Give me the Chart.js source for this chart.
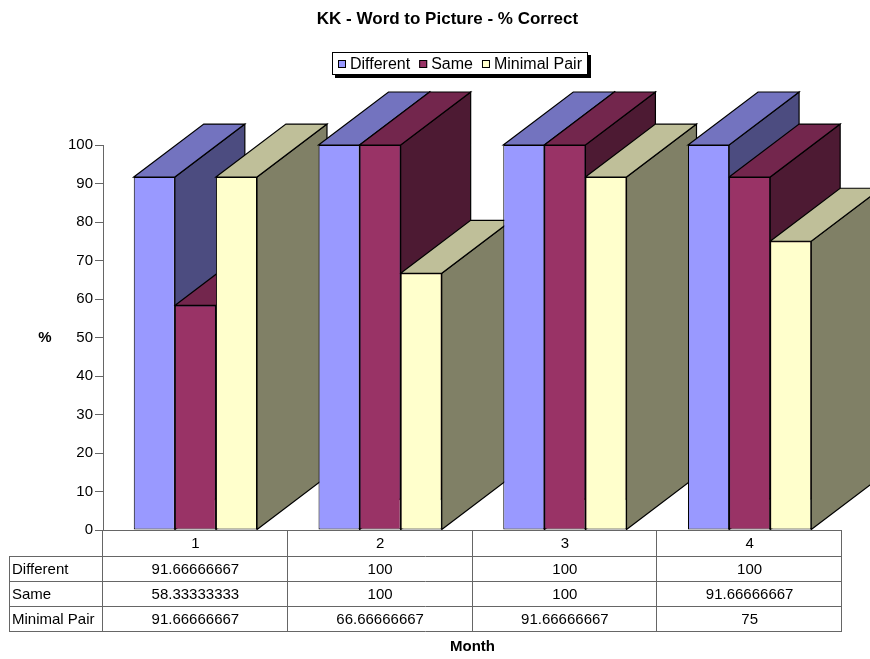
<!DOCTYPE html>
<html>
<head>
<meta charset="utf-8">
<script src="https://cdn.jsdelivr.net/npm/chart.js@4/dist/chart.umd.min.js"></script>
<style>
  html, body { margin: 0; padding: 0; background: #ffffff; }
  #wrap { width: 870px; height: 659px; }
</style>
</head>
<body>
<div id="wrap"><canvas id="chart" width="870" height="659"></canvas></div>
<script>
// Months on the category axis
const months = ['1', '2', '3', '4'];

// % correct per condition
const different = [91.66666667, 100, 100, 100];
const same = [58.33333333, 100, 100, 91.66666667];
const minimalPair = [91.66666667, 66.66666667, 91.66666667, 75];

const seriesNames = ['Different', 'Same', 'Minimal Pair'];
const yTicks = [0, 10, 20, 30, 40, 50, 60, 70, 80, 90, 100];

// front / top / side shades for each series
const frontColors = ['#9999FF', '#993366', '#FFFFCC'];
const topColors = ['#7373BF', '#73264D', '#BFBF99'];
const sideColors = ['#4C4C80', '#4D1A33', '#808066'];

const FONT = '"Liberation Sans", Arial, sans-serif';
const LINE = '#666666';
const DEPTH_X = 70;
const DEPTH_Y = 53;

const seriesValues = [different, same, minimalPair];

// Draws the depth faces (right side and top) of every column, left to right,
// so that later columns cover the faces of the ones behind them.
const depthPlugin = {
  id: 'depth3d',
  beforeDatasetsDraw(chart) {
    const ctx = chart.ctx;
    const bars = [];
    chart.data.datasets.forEach((ds, di) => {
      chart.getDatasetMeta(di).data.forEach(el => {
        bars.push({ el, di });
      });
    });
    bars.sort((a, b) => a.el.x - b.el.x);
    ctx.save();
    ctx.lineWidth = 1.2;
    ctx.strokeStyle = '#000000';
    ctx.lineJoin = 'miter';
    bars.forEach(({ el, di }) => {
      const p = el.getProps(['x', 'y', 'base', 'width'], true);
      const l = p.x - p.width / 2, r = p.x + p.width / 2;
      const t = p.y, b = p.base;
      // side face
      ctx.beginPath();
      ctx.moveTo(r, t);
      ctx.lineTo(r + DEPTH_X, t - DEPTH_Y);
      ctx.lineTo(r + DEPTH_X, b - DEPTH_Y);
      ctx.lineTo(r, b);
      ctx.closePath();
      ctx.fillStyle = sideColors[di];
      ctx.fill();
      ctx.stroke();
      // top face
      ctx.beginPath();
      ctx.moveTo(l, t);
      ctx.lineTo(l + DEPTH_X, t - DEPTH_Y);
      ctx.lineTo(r + DEPTH_X, t - DEPTH_Y);
      ctx.lineTo(r, t);
      ctx.closePath();
      ctx.fillStyle = topColors[di];
      ctx.fill();
      ctx.stroke();
    });
    ctx.restore();
  }
};

// Title, legend, axis titles and the data table under the plot
const decorPlugin = {
  id: 'decor',
  afterDraw(chart) {
    const ctx = chart.ctx;
    const area = chart.chartArea;
    const xs = chart.scales.x;
    ctx.save();

    // title
    ctx.fillStyle = '#000000';
    ctx.font = 'bold 17px ' + FONT;
    ctx.textAlign = 'center';
    ctx.textBaseline = 'middle';
    ctx.fillText('KK - Word to Picture - % Correct', 447.5, 19);

    // legend box with drop shadow
    const lx = 332, ly = 52, lw = 256, lh = 23;
    ctx.fillStyle = '#000000';
    ctx.fillRect(lx + 3, ly + 3, lw, lh);
    ctx.fillStyle = '#ffffff';
    ctx.fillRect(lx, ly, lw, lh);
    ctx.strokeStyle = '#000000';
    ctx.lineWidth = 1;
    ctx.strokeRect(lx + 0.5, ly + 0.5, lw - 1, lh - 1);
    ctx.font = '16px ' + FONT;
    ctx.textAlign = 'left';
    let cx = lx + 6;
    seriesNames.forEach((name, i) => {
      ctx.fillStyle = frontColors[i];
      ctx.fillRect(cx, ly + 8, 8, 8);
      ctx.strokeStyle = '#000000';
      ctx.strokeRect(cx + 0.5, ly + 8.5, 7, 7);
      ctx.fillStyle = '#000000';
      ctx.fillText(name, cx + 12, ly + lh / 2 + 1);
      cx += 12 + ctx.measureText(name).width + 9;
    });

    // axis titles
    ctx.font = 'bold 15px ' + FONT;
    ctx.textAlign = 'center';
    ctx.fillText('%', 45, (area.top + area.bottom) / 2);
    ctx.fillText('Month', (area.left + area.right) / 2, 647);

    // data table
    const rowY = [area.bottom, 556, 581, 606, 631];
    const tableLeft = 9;
    ctx.strokeStyle = LINE;
    ctx.lineWidth = 1;
    ctx.beginPath();
    ctx.moveTo(area.left, Math.round(rowY[0]) + 0.5);
    ctx.lineTo(area.right, Math.round(rowY[0]) + 0.5);
    for (let r = 1; r < rowY.length; r++) {
      ctx.moveTo(tableLeft, rowY[r] + 0.5);
      ctx.lineTo(area.right, rowY[r] + 0.5);
    }
    ctx.moveTo(tableLeft + 0.5, rowY[1]);
    ctx.lineTo(tableLeft + 0.5, rowY[4]);
    const bounds = [area.left];
    months.forEach((m, i) => bounds.push(area.left + (area.right - area.left) * (i + 1) / months.length));
    bounds.forEach(bx => {
      ctx.moveTo(Math.round(bx) - 0.5, rowY[0]);
      ctx.lineTo(Math.round(bx) - 0.5, rowY[4]);
    });
    ctx.stroke();

    ctx.fillStyle = '#000000';
    ctx.font = '15px ' + FONT;
    ctx.textBaseline = 'middle';
    months.forEach((m, i) => {
      const mx = xs.getPixelForValue(i);
      ctx.textAlign = 'center';
      ctx.fillText(m, mx, (rowY[0] + rowY[1]) / 2 + 1);
      seriesValues.forEach((vals, s) => {
        ctx.fillText(String(vals[i]), mx, (rowY[s + 1] + rowY[s + 2]) / 2 + 1);
      });
    });
    ctx.textAlign = 'left';
    seriesNames.forEach((name, s) => {
      ctx.fillText(name, tableLeft + 3, (rowY[s + 1] + rowY[s + 2]) / 2 + 1);
    });
    ctx.restore();
  }
};

new Chart(document.getElementById('chart'), {
  type: 'bar',
  data: {
    labels: months,
    datasets: seriesNames.map((name, i) => ({
      label: name,
      data: seriesValues[i],
      backgroundColor: frontColors[i],
      borderColor: '#000000',
      borderWidth: 1,
      borderSkipped: false,
      categoryPercentage: 0.667,
      barPercentage: 1.0
    }))
  },
  options: {
    responsive: false,
    devicePixelRatio: 1,
    animation: false,
    layout: { padding: { top: 145, right: 28, bottom: 129, left: 0 } },
    plugins: {
      legend: { display: false },
      title: { display: false },
      tooltip: { enabled: false }
    },
    scales: {
      x: {
        display: false
      },
      y: {
        min: 0,
        max: 100,
        afterBuildTicks(scale) {
          scale.ticks = yTicks.map(v => ({ value: v }));
        },
        afterFit(scale) { scale.width = 103; },
        ticks: {
          color: '#000000',
          font: { family: FONT, size: 15 },
          padding: 2
        },
        grid: {
          drawOnChartArea: false,
          drawTicks: true,
          tickLength: 8,
          color: LINE
        },
        border: { display: true, color: LINE }
      }
    }
  },
  plugins: [depthPlugin, decorPlugin]
});
</script>
</body>
</html>
